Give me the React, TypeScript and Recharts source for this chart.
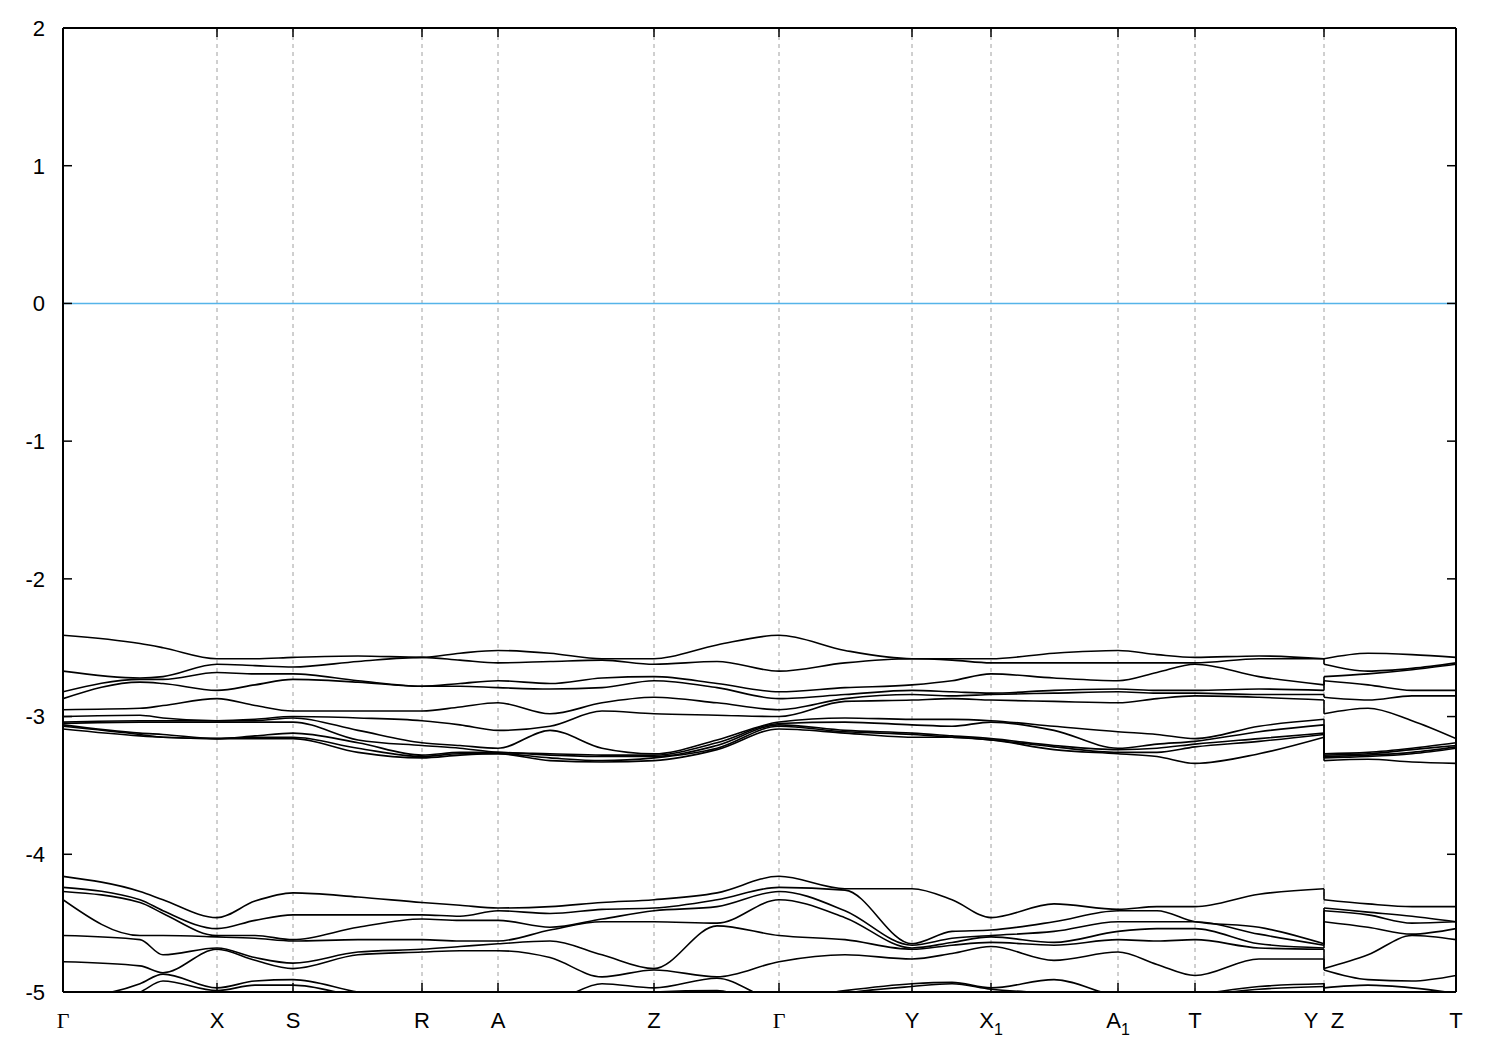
import React from "react";
import { LineChart, Line, XAxis, YAxis, ReferenceLine } from "recharts";

// distance along the k-path; 1261 appears twice because the path jumps Y|Z there
const kGrid = [
  0, 77, 100, 154, 192, 230, 295, 359, 397, 435, 487, 539, 591, 654, 716, 782, 849, 889, 928, 991,
  1055, 1094, 1132, 1196, 1261, 1261, 1305, 1349, 1393,
];
const JUMP = 25; // first point after the Y|Z break

const symmetryK = [0, 154, 230, 359, 435, 591, 716, 849, 928, 1055, 1132, 1261, 1393];
const symmetryLabels = ["Γ", "X", "S", "R", "A", "Z", "Γ", "Y", "X1", "A1", "T", "Y|Z", "T"];
const energyTicks = [-5, -4, -3, -2, -1, 0, 1, 2];

// upper manifold (eV), bands in energy order
const band01 = [-2.41, -2.47, -2.5, -2.58, -2.58, -2.57, -2.56, -2.57, -2.54, -2.52, -2.54, -2.58, -2.58, -2.48, -2.41, -2.52, -2.58, -2.58, -2.58, -2.54, -2.52, -2.55, -2.57, -2.56, -2.58, -2.58, -2.54, -2.55, -2.57];
const band02 = [-2.67, -2.72, -2.71, -2.62, -2.63, -2.64, -2.6, -2.57, -2.59, -2.61, -2.6, -2.59, -2.62, -2.6, -2.67, -2.61, -2.58, -2.59, -2.61, -2.61, -2.61, -2.61, -2.61, -2.58, -2.58, -2.62, -2.67, -2.65, -2.61];
const band03 = [-2.82, -2.73, -2.73, -2.68, -2.69, -2.69, -2.74, -2.78, -2.76, -2.74, -2.76, -2.72, -2.71, -2.76, -2.82, -2.79, -2.77, -2.74, -2.69, -2.72, -2.74, -2.68, -2.62, -2.71, -2.77, -2.71, -2.69, -2.66, -2.62];
const band04 = [-2.87, -2.75, -2.76, -2.81, -2.77, -2.73, -2.75, -2.78, -2.78, -2.79, -2.8, -2.79, -2.74, -2.79, -2.87, -2.84, -2.81, -2.82, -2.83, -2.81, -2.8, -2.81, -2.81, -2.8, -2.81, -2.74, -2.77, -2.81, -2.81];
const band05 = [-2.95, -2.94, -2.92, -2.87, -2.92, -2.96, -2.96, -2.96, -2.93, -2.9, -2.98, -2.9, -2.86, -2.9, -2.95, -2.87, -2.84, -2.85, -2.84, -2.83, -2.82, -2.83, -2.83, -2.84, -2.84, -2.86, -2.88, -2.85, -2.85];
const band06 = [-3.0, -2.99, -3.01, -3.03, -3.02, -3.0, -3.01, -3.03, -3.06, -3.1, -3.07, -2.96, -2.98, -2.99, -3.0, -2.89, -2.88, -2.87, -2.88, -2.89, -2.9, -2.87, -2.85, -2.86, -2.88, -2.98, -2.94, -3.03, -3.16];
const band07 = [-3.04, -3.03, -3.03, -3.03, -3.03, -3.01, -3.1, -3.19, -3.21, -3.23, -3.1, -3.23, -3.27, -3.17, -3.04, -3.01, -3.02, -3.02, -3.03, -3.07, -3.11, -3.13, -3.16, -3.07, -3.02, -3.27, -3.26, -3.23, -3.19];
const band08 = [-3.05, -3.04, -3.04, -3.04, -3.04, -3.04, -3.17, -3.21, -3.23, -3.26, -3.27, -3.28, -3.28, -3.19, -3.05, -3.04, -3.06, -3.07, -3.04, -3.1, -3.23, -3.2, -3.18, -3.11, -3.06, -3.28, -3.27, -3.24, -3.21];
const band09 = [-3.06, -3.12, -3.13, -3.16, -3.14, -3.12, -3.19, -3.28, -3.26, -3.26, -3.28, -3.29, -3.29, -3.21, -3.06, -3.1, -3.12, -3.14, -3.16, -3.21, -3.24, -3.23, -3.2, -3.16, -3.12, -3.29, -3.28, -3.26, -3.22];
const band10 = [-3.07, -3.13, -3.15, -3.16, -3.15, -3.15, -3.23, -3.29, -3.27, -3.27, -3.3, -3.32, -3.3, -3.23, -3.07, -3.11, -3.13, -3.15, -3.17, -3.22, -3.26, -3.26, -3.22, -3.18, -3.13, -3.3, -3.29, -3.27, -3.23];
const band11 = [-3.09, -3.14, -3.15, -3.16, -3.16, -3.16, -3.26, -3.3, -3.28, -3.27, -3.32, -3.33, -3.32, -3.24, -3.09, -3.12, -3.15, -3.15, -3.17, -3.24, -3.27, -3.29, -3.34, -3.27, -3.15, -3.32, -3.31, -3.33, -3.34];

// lower manifold (eV)
const band12 = [-4.16, -4.27, -4.33, -4.46, -4.34, -4.28, -4.31, -4.35, -4.37, -4.39, -4.38, -4.35, -4.33, -4.28, -4.16, -4.25, -4.25, -4.33, -4.46, -4.36, -4.4, -4.38, -4.38, -4.29, -4.25, -4.33, -4.36, -4.38, -4.38];
const band13 = [-4.24, -4.33, -4.41, -4.54, -4.48, -4.44, -4.44, -4.44, -4.45, -4.41, -4.43, -4.4, -4.39, -4.33, -4.24, -4.26, -4.65, -4.56, -4.55, -4.49, -4.41, -4.41, -4.49, -4.53, -4.65, -4.39, -4.42, -4.45, -4.49];
const band14 = [-4.27, -4.35, -4.43, -4.59, -4.59, -4.62, -4.53, -4.47, -4.48, -4.48, -4.53, -4.47, -4.41, -4.38, -4.27, -4.41, -4.66, -4.61, -4.59, -4.56, -4.49, -4.49, -4.49, -4.58, -4.66, -4.41, -4.44, -4.5, -4.49];
const band15 = [-4.33, -4.59, -4.59, -4.6, -4.61, -4.63, -4.62, -4.62, -4.63, -4.63, -4.55, -4.49, -4.49, -4.5, -4.33, -4.46, -4.68, -4.64, -4.6, -4.64, -4.56, -4.54, -4.54, -4.65, -4.68, -4.49, -4.53, -4.58, -4.54];
const band16 = [-4.59, -4.62, -4.73, -4.68, -4.75, -4.79, -4.71, -4.69, -4.67, -4.65, -4.63, -4.73, -4.83, -4.52, -4.59, -4.62, -4.69, -4.66, -4.64, -4.66, -4.62, -4.63, -4.62, -4.68, -4.69, -4.83, -4.73, -4.59, -4.62];
const band17 = [-4.78, -4.81, -4.86, -4.69, -4.77, -4.83, -4.73, -4.71, -4.7, -4.7, -4.75, -4.89, -4.84, -4.89, -4.78, -4.73, -4.76, -4.72, -4.67, -4.77, -4.71, -4.8, -4.88, -4.76, -4.76, -4.84, -4.91, -4.92, -4.88];
const band18 = [-5.06, -4.94, -4.87, -4.97, -4.92, -4.91, -5.0, -5.06, -5.06, -5.06, -5.06, -4.94, -4.97, -4.9, -5.06, -4.99, -4.94, -4.93, -4.97, -4.91, -5.03, -5.05, -5.02, -4.96, -4.94, -4.97, -4.95, -4.97, -5.01];
const band19 = [-5.11, -5.0, -4.92, -4.99, -4.95, -4.95, -5.03, -5.08, -5.08, -5.08, -5.08, -5.06, -5.0, -4.99, -5.11, -5.01, -4.96, -4.94, -4.98, -5.01, -5.06, -5.06, -5.03, -4.98, -4.96, -5.0, -5.0, -5.02, -5.03];

const bands = [
  band01, band02, band03, band04, band05, band06, band07, band08, band09, band10, band11,
  band12, band13, band14, band15, band16, band17, band18, band19,
];

const FONT = "'Liberation Sans', Arial, Helvetica, sans-serif";
const kDomain = [symmetryK[0], symmetryK[symmetryK.length - 1]];
const eDomain = [energyTicks[0], energyTicks[energyTicks.length - 1]];

function PointLabel({ x, y, payload }: any) {
  const label = symmetryLabels[symmetryK.indexOf(payload.value)] ?? "";
  const base = { x, y: y + 36, textAnchor: "middle" as const, fontSize: 22, fill: "#000", fontFamily: FONT };
  if (label === "Γ")
    return (
      <text {...base} fontFamily="'Liberation Serif', 'DejaVu Serif', serif">
        Γ
      </text>
    );
  if (label.endsWith("1"))
    return (
      <text {...base}>
        {label[0]}
        <tspan dy={7} fontSize={16}>
          1
        </tspan>
      </text>
    );
  if (label === "Y|Z") return <text {...base}>{"Y\u00a0\u00a0Z"}</text>;
  return <text {...base}>{label}</text>;
}

function EnergyLabel({ x, y, payload }: any) {
  return (
    <text x={x} y={y} dy="0.36em" textAnchor="end" fontSize={22} fill="#000" fontFamily={FONT}>
      {payload.value}
    </text>
  );
}

// tick marks only, no text
function NoLabel() {
  return <g />;
}

const frame = { stroke: "#000", strokeWidth: 2 };
const inward = { stroke: "#000", strokeWidth: 1.5 };

export default function App() {
  const series = bands.map((band) => kGrid.map((k, i) => ({ k, e: band[i] })));
  const common = {
    dataKey: "e",
    dot: false,
    activeDot: false,
    isAnimationActive: false,
  };
  return (
    <div style={{ position: "absolute", left: 0, top: 0, background: "#fff" }}>
      <LineChart width={1500} height={1050} margin={{ top: 28, right: 44, bottom: 8, left: 8 }}>
        <XAxis
          type="number"
          dataKey="k"
          domain={kDomain}
          ticks={symmetryK}
          interval={0}
          allowDataOverflow
          height={50}
          tickSize={0}
          tickMargin={0}
          tickLine={false}
          axisLine={frame}
          tick={<PointLabel />}
        />
        <XAxis
          xAxisId="top"
          orientation="top"
          mirror
          type="number"
          dataKey="k"
          domain={kDomain}
          ticks={symmetryK}
          interval={0}
          allowDataOverflow
          height={10}
          tick={<NoLabel />}
          tickSize={9}
          tickLine={inward}
          axisLine={frame}
        />
        <XAxis
          xAxisId="bottomTicks"
          orientation="bottom"
          mirror
          type="number"
          dataKey="k"
          domain={kDomain}
          ticks={symmetryK}
          interval={0}
          allowDataOverflow
          height={10}
          tick={<NoLabel />}
          tickSize={9}
          tickLine={inward}
          axisLine={false}
        />
        <YAxis
          type="number"
          domain={eDomain}
          ticks={energyTicks}
          interval={0}
          allowDataOverflow
          width={55}
          tickSize={0}
          tickMargin={18}
          tickLine={false}
          axisLine={frame}
          tick={<EnergyLabel />}
        />
        <YAxis
          yAxisId="leftTicks"
          orientation="left"
          mirror
          type="number"
          domain={eDomain}
          ticks={energyTicks}
          interval={0}
          allowDataOverflow
          width={10}
          tick={<NoLabel />}
          tickSize={9}
          tickLine={inward}
          axisLine={false}
        />
        <YAxis
          yAxisId="right"
          orientation="right"
          mirror
          type="number"
          domain={eDomain}
          ticks={energyTicks}
          interval={0}
          allowDataOverflow
          width={10}
          tick={<NoLabel />}
          tickSize={9}
          tickLine={inward}
          axisLine={frame}
        />

        {symmetryK.slice(1, -1).map((k) => (
          <ReferenceLine key={`g${k}`} x={k} stroke="#a0a0a0" strokeWidth={1} strokeDasharray="4 4" />
        ))}
        <ReferenceLine y={0} stroke="#56b4e9" strokeWidth={1.5} />

        {/* invisible copies so the frame/tick axes have data bound to them */}
        <Line {...common} xAxisId="top" yAxisId="right" data={series[0]} stroke="none" type="linear" />
        <Line {...common} xAxisId="bottomTicks" yAxisId="leftTicks" data={series[0]} stroke="none" type="linear" />

        {series.map((pts, b) => (
          <React.Fragment key={b}>
            <Line {...common} stroke="#000" strokeWidth={1.6} type="monotone" data={pts.slice(0, JUMP)} />
            <Line {...common} stroke="#000" strokeWidth={1.6} type="linear" data={pts.slice(JUMP - 1, JUMP + 1)} />
            <Line {...common} stroke="#000" strokeWidth={1.6} type="monotone" data={pts.slice(JUMP)} />
          </React.Fragment>
        ))}
      </LineChart>
    </div>
  );
}
